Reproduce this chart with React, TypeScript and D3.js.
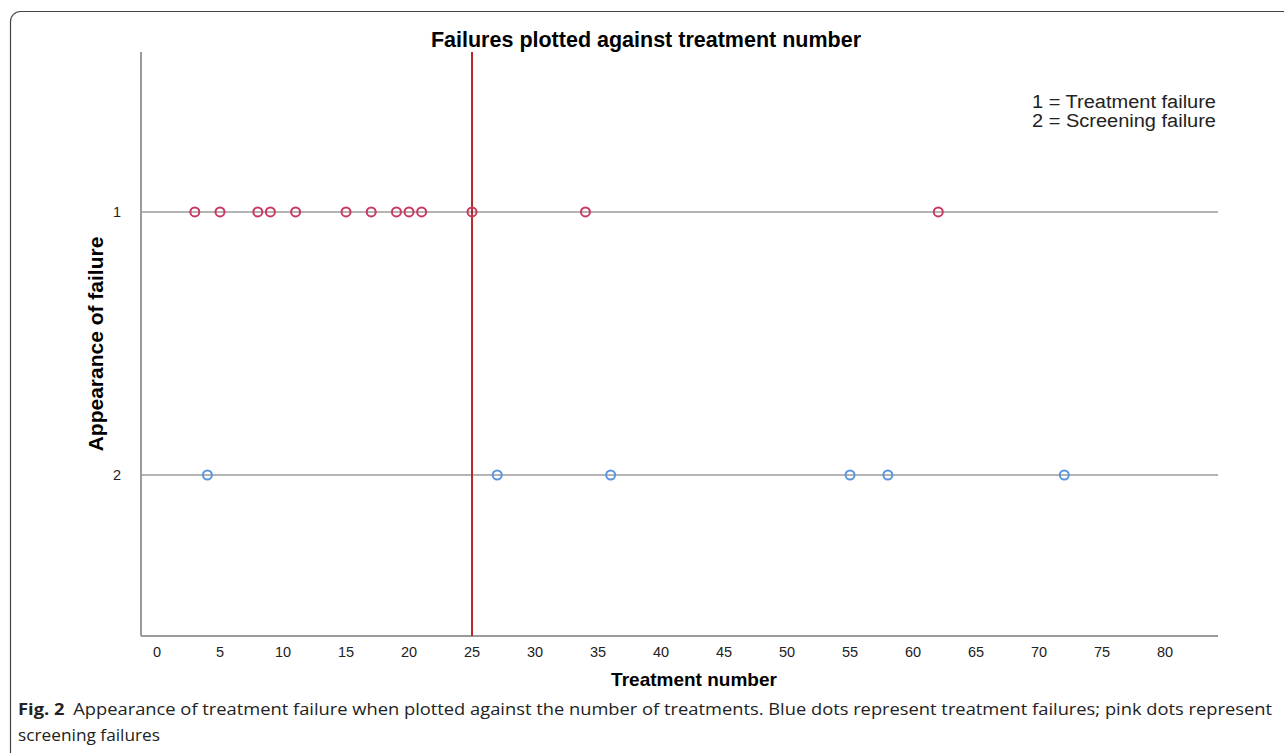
import React, { useEffect, useRef } from "react";
import * as d3 from "d3";

// treatment numbers at which each kind of failure appeared
const treatmentFailures = [3, 5, 8, 9, 11, 15, 17, 19, 20, 21, 25, 34, 62];
const screeningFailures = [4, 27, 36, 55, 58, 72];
const xTicks = [0, 5, 10, 15, 20, 25, 30, 35, 40, 45, 50, 55, 60, 65, 70, 75, 80];
const yTicks = [1, 2];
const cutoff = 25;
const legendLines = ["1 = Treatment failure", "2 = Screening failure"];

const width = 1284;
const height = 753;

const App = () => {
  const ref = useRef<HTMLDivElement>(null);

  useEffect(() => {
    d3.select(ref.current).selectAll("svg").remove();
    const svg = d3
      .select(ref.current)
      .append("svg")
      .attr("width", width)
      .attr("height", height)
      .style("position", "absolute")
      .style("left", "0px")
      .style("top", "0px")
      .style("background", "#fff");

    // figure frame
    svg
      .append("rect")
      .attr("x", 10.5)
      .attr("y", 11.5)
      .attr("width", 1300)
      .attr("height", 800)
      .attr("rx", 10)
      .attr("fill", "none")
      .attr("stroke", "#444")
      .attr("stroke-width", 1.2);

    const left = 141;
    const right = 1218;
    const top = 52;
    const bottom = 636;

    const x = d3
      .scaleLinear()
      .domain([-1.27, 84.2])
      .range([left, right]);
    const y = d3
      .scaleLinear()
      .domain([0.392, 2.612])
      .range([top, bottom]);

    const font = "Arial, 'Liberation Sans', sans-serif";

    // title
    svg
      .append("text")
      .attr("x", 646)
      .attr("y", 47)
      .attr("text-anchor", "middle")
      .attr("font-family", font)
      .attr("font-weight", "bold")
      .attr("font-size", 21.5)
      .text("Failures plotted against treatment number");

    // horizontal reference lines
    svg
      .selectAll(".hline")
      .data(yTicks)
      .enter()
      .append("line")
      .attr("x1", left)
      .attr("x2", right)
      .attr("y1", (d) => y(d))
      .attr("y2", (d) => y(d))
      .attr("stroke", "#b4b4b4")
      .attr("stroke-width", 2);

    // axes frame lines
    svg
      .append("line")
      .attr("x1", left)
      .attr("x2", left)
      .attr("y1", top)
      .attr("y2", bottom)
      .attr("stroke", "#9a9a9a")
      .attr("stroke-width", 2);
    svg
      .append("line")
      .attr("x1", left)
      .attr("x2", right)
      .attr("y1", bottom)
      .attr("y2", bottom)
      .attr("stroke", "#9a9a9a")
      .attr("stroke-width", 2);

    // cutoff line
    svg
      .append("line")
      .attr("x1", x(cutoff))
      .attr("x2", x(cutoff))
      .attr("y1", top)
      .attr("y2", bottom)
      .attr("stroke", "#b22a2a")
      .attr("stroke-width", 2);

    // tick labels
    svg
      .selectAll(".xtick")
      .data(xTicks)
      .enter()
      .append("text")
      .attr("x", (d) => x(d))
      .attr("y", 657)
      .attr("text-anchor", "middle")
      .attr("font-family", font)
      .attr("font-size", 14.5)
      .attr("fill", "#222")
      .text((d) => d);

    svg
      .selectAll(".ytick")
      .data(yTicks)
      .enter()
      .append("text")
      .attr("x", 117)
      .attr("y", (d) => y(d) + 5)
      .attr("text-anchor", "middle")
      .attr("font-family", font)
      .attr("font-size", 14.5)
      .attr("fill", "#222")
      .text((d) => d);

    // axis titles
    svg
      .append("text")
      .attr("x", 694)
      .attr("y", 686)
      .attr("text-anchor", "middle")
      .attr("font-family", font)
      .attr("font-weight", "bold")
      .attr("font-size", 19)
      .text("Treatment number");

    svg
      .append("text")
      .attr("transform", `translate(103,${(top + bottom) / 2}) rotate(-90)`)
      .attr("text-anchor", "middle")
      .attr("font-family", font)
      .attr("font-weight", "bold")
      .attr("font-size", 21)
      .text("Appearance of failure");

    // legend note
    svg
      .selectAll(".legend")
      .data(legendLines)
      .enter()
      .append("text")
      .attr("x", 1032)
      .attr("y", (d, i) => 108 + i * 19)
      .attr("font-family", font)
      .attr("font-size", 18)
      .attr("fill", "#222")
      .attr("textLength", 184)
      .attr("lengthAdjust", "spacingAndGlyphs")
      .text((d) => d);

    // points
    svg
      .selectAll(".pt1")
      .data(treatmentFailures)
      .enter()
      .append("circle")
      .attr("cx", (d) => x(d))
      .attr("cy", y(1))
      .attr("r", 4.5)
      .attr("fill", "none")
      .attr("stroke", "#c8385f")
      .attr("stroke-width", 2);

    svg
      .selectAll(".pt2")
      .data(screeningFailures)
      .enter()
      .append("circle")
      .attr("cx", (d) => x(d))
      .attr("cy", y(2))
      .attr("r", 4.5)
      .attr("fill", "none")
      .attr("stroke", "#5a96e0")
      .attr("stroke-width", 2);

    // caption
    const capFont = "'Open Sans', 'Noto Sans', sans-serif";
    const cap = svg
      .append("text")
      .attr("x", 18)
      .attr("y", 715)
      .attr("font-family", capFont)
      .attr("font-size", 16.5)
      .attr("fill", "#222")
      .attr("textLength", 1254)
      .attr("lengthAdjust", "spacingAndGlyphs");
    cap.append("tspan").attr("font-weight", "bold").text("Fig. 2");
    cap
      .append("tspan")
      .attr("dx", 8)
      .text(
        "Appearance of treatment failure when plotted against the number of treatments. Blue dots represent treatment failures; pink dots represent"
      );
    svg
      .append("text")
      .attr("x", 18)
      .attr("y", 741)
      .attr("font-family", capFont)
      .attr("font-size", 16.5)
      .attr("fill", "#222")
      .attr("textLength", 142)
      .attr("lengthAdjust", "spacingAndGlyphs")
      .text("screening failures");
  }, []);

  return <div ref={ref}></div>;
};

export default App;
